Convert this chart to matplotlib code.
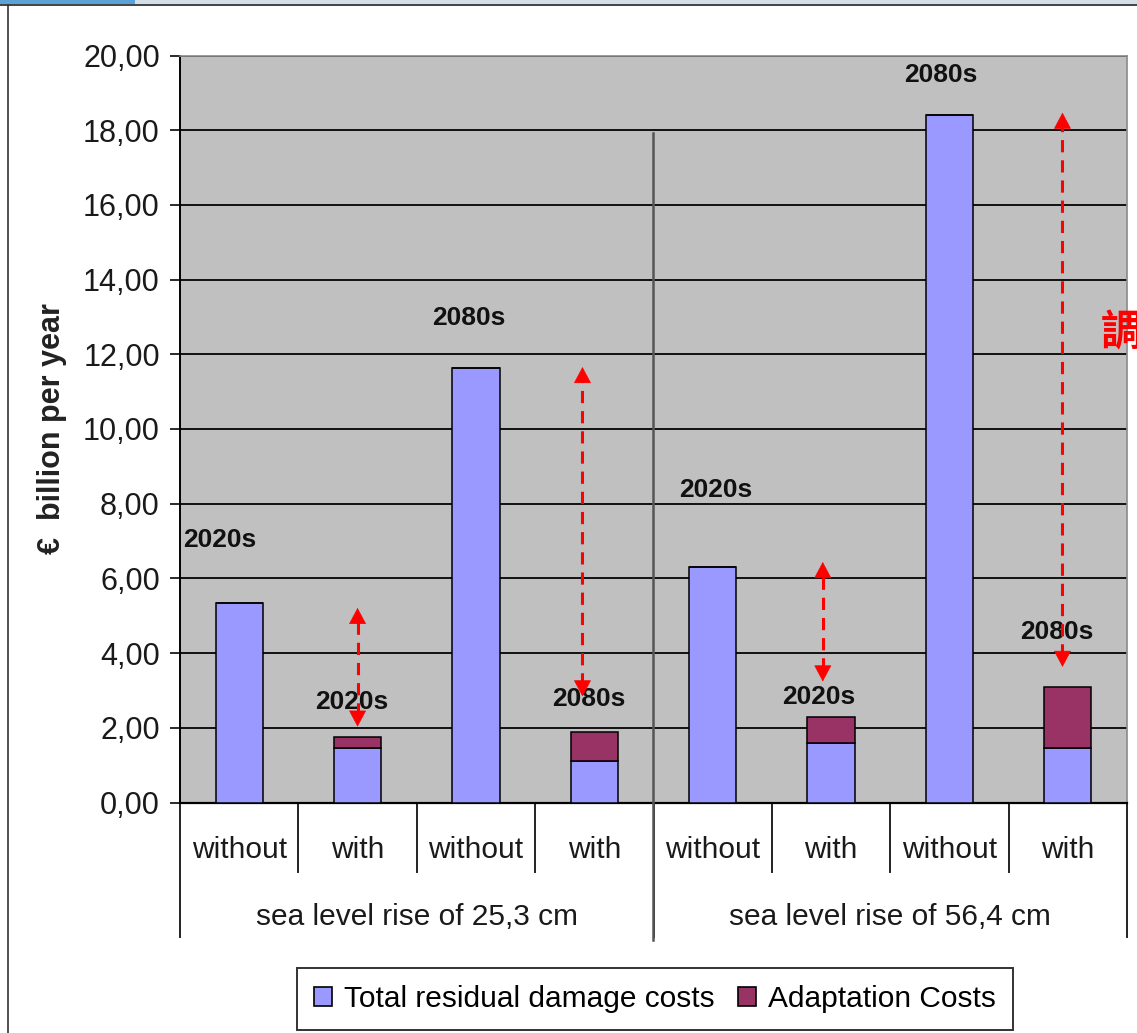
import matplotlib.pyplot as plt
import matplotlib.transforms as mtransforms
from matplotlib.patches import Rectangle, Patch
from matplotlib.lines import Line2D
from matplotlib.ticker import FuncFormatter, MultipleLocator

plt.rcParams['font.family'] = ['Liberation Sans', 'DejaVu Sans']

# data
categories = ["without", "with", "without", "with", "without", "with", "without", "with"]
groups = ["sea level rise of 25,3 cm", "sea level rise of 56,4 cm"]
residual = [5.35, 1.47, 11.64, 1.10, 6.31, 1.58, 18.41, 1.47]
adaptation = [0.0, 0.28, 0.0, 0.78, 0.0, 0.70, 0.0, 1.61]

# period labels above the bars (text, x, y)
period_text = ["2020s", "2020s", "2080s", "2080s", "2020s", "2020s", "2080s", "2080s"]
period_x = [-0.16, 0.95, 1.94, 2.95, 4.03, 4.90, 5.93, 6.91]
period_y = [7.03, 2.70, 12.98, 2.78, 8.37, 2.83, 19.48, 4.57]

# red double arrows drawn over the chart
arrow_x = [1.0, 2.90, 4.93, 6.955]
arrow_top = [5.21, 11.66, 6.44, 18.47]
arrow_bottom = [2.03, 2.84, 3.24, 3.63]

blue = "#9999ff"
maroon = "#993366"

fig = plt.figure(figsize=(11.37, 10.33), dpi=100)
ax = fig.add_axes([180 / 1137, 1 - 802.5 / 1033, 947 / 1137, 747 / 1033])
ax.set_facecolor("#c0c0c0")

x = list(range(len(categories)))
ax.bar(x, residual, width=0.4, color=blue, edgecolor="black", linewidth=1.1, zorder=3)
ax.bar(x, adaptation, width=0.4, bottom=residual, color=maroon, edgecolor="black",
       linewidth=1.1, zorder=3)

ax.set_xlim(-0.5, 7.5)
ax.set_ylim(0, 20)
ax.yaxis.set_major_locator(MultipleLocator(2))
ax.yaxis.set_major_formatter(FuncFormatter(lambda v, p: f"{v:.2f}".replace(".", ",")))
ax.tick_params(axis="y", labelsize=22, length=7, width=1.3, colors="#1a1a1a", pad=7.5)
ax.set_xticks([])
ax.grid(axis="y", color="#111111", linewidth=1.4, zorder=1)
ax.set_axisbelow(True)

for s in ["top", "right"]:
    ax.spines[s].set_color("#8a8a8a")
    ax.spines[s].set_linewidth(1.2)
ax.spines["left"].set_linewidth(1.4)
ax.spines["bottom"].set_linewidth(1.6)

ax.set_ylabel("€  billion per year", fontsize=22, fontweight="bold", color="#222222")
ax.yaxis.set_label_coords(-0.119, 0.5)

# labels of the years
for t, px, py in zip(period_text, period_x, period_y):
    ax.text(px, py, t, ha="center", va="center", fontsize=19, fontweight="bold",
            color="#111111", zorder=5)

# red arrows
for ax_x, top, bot in zip(arrow_x, arrow_top, arrow_bottom):
    ax.plot([ax_x, ax_x], [bot + 0.3, top - 0.3], color="red", linewidth=2.2,
            linestyle=(0, (4, 2.6)), zorder=6)
    for tip, tail in [(top, top - 0.3), (bot, bot + 0.3)]:
        ax.annotate("", xy=(ax_x, tip), xytext=(ax_x, tail),
                    arrowprops=dict(arrowstyle="-|>,head_length=0.6,head_width=0.32",
                                    color="red", lw=0.5, mutation_scale=18, shrinkA=0, shrinkB=0),
                    zorder=6)

# category labels under the axis
trans = mtransforms.blended_transform_factory(ax.transData, ax.transAxes)
for i, c in enumerate(categories):
    ax.text(i, -0.0635, c, transform=trans, ha="center", va="center", fontsize=21.5,
            color="#1a1a1a")
for g, gname in enumerate(groups):
    ax.text(g * 4 + 1.5, -0.153, gname, transform=trans, ha="center", va="center",
            fontsize=21.5, color="#1a1a1a")

for b in [0.5, 1.5, 2.5, 4.5, 5.5, 6.5]:
    ax.add_line(Line2D([b, b], [0, -0.093], transform=trans, color="#222222",
                       linewidth=1.4, clip_on=False))
for b in [-0.5, 3.5, 7.5]:
    ax.add_line(Line2D([b, b], [0, -0.18], transform=trans, color="#222222",
                       linewidth=1.4, clip_on=False))

# separator between the two scenarios
ax.add_line(Line2D([3.495, 3.495], [-0.184, 0.8965], transform=trans, color="#555555",
                   linewidth=1.8, clip_on=False, zorder=4))

# legend
handles = [Patch(facecolor=blue, edgecolor="black", linewidth=1.2),
           Patch(facecolor=maroon, edgecolor="black", linewidth=1.2)]
leg = fig.legend(handles, ["Total residual damage costs", "Adaptation Costs"],
                 loc="center", bbox_to_anchor=(655 / 1137, 1 - 999 / 1033), ncol=2,
                 fontsize=21.5, frameon=True, fancybox=False, edgecolor="black",
                 handlelength=0.6, handleheight=0.6, handletextpad=0.4, columnspacing=0.8,
                 borderpad=0.56, borderaxespad=0)
leg.get_frame().set_linewidth(1.4)

# red character cut off at the right edge, as in the screenshot
fig.text(1101 / 1137, 1 - 333 / 1033, "調", color="red", fontsize=30, fontweight="bold",
         ha="left", va="center", family=["Noto Sans CJK TC", "DejaVu Sans"])

# screenshot frame
fig.patches.append(Rectangle((0, 1 - 4 / 1033), 135 / 1137, 4 / 1033, transform=fig.transFigure,
                             facecolor="#5ba3d6", edgecolor="none"))
fig.patches.append(Rectangle((135 / 1137, 1 - 4 / 1033), 1, 4 / 1033, transform=fig.transFigure,
                             facecolor="#d4dfea", edgecolor="none"))
fig.lines.append(Line2D([0, 1], [1 - 4.5 / 1033, 1 - 4.5 / 1033], transform=fig.transFigure,
                        color="#222222", linewidth=1.2))
fig.lines.append(Line2D([8 / 1137, 8 / 1137], [0, 1 - 4.5 / 1033], transform=fig.transFigure,
                        color="#333333", linewidth=1.2))

fig.savefig("out.png", dpi=100)
